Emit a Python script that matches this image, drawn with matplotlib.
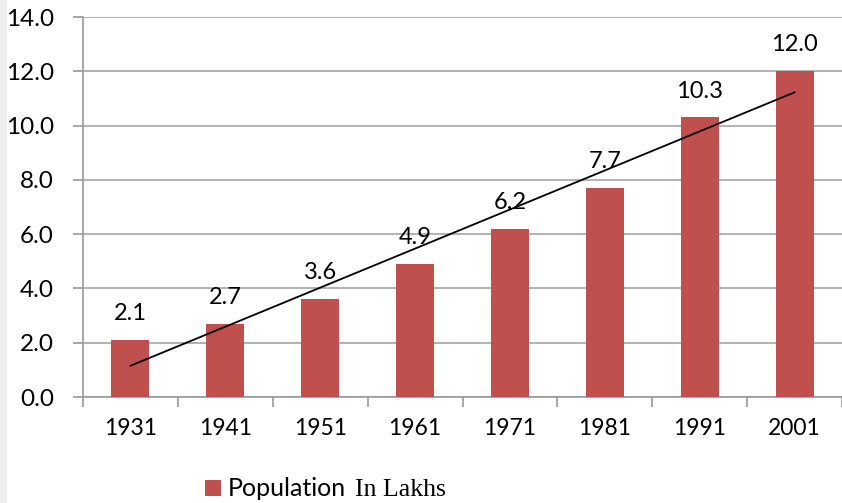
import numpy as np
import matplotlib
matplotlib.use("Agg")
import matplotlib.pyplot as plt
from matplotlib.patches import Rectangle

years = ["1931", "1941", "1951", "1961", "1971", "1981", "1991", "2001"]
population = [2.1, 2.7, 3.6, 4.9, 6.2, 7.7, 10.3, 12.0]
series_name = "Population"
series_unit = "In Lakhs"

plt.rcParams['font.family'] = ['Lato', 'DejaVu Sans']

fig = plt.figure(figsize=(8.42, 5.03), dpi=100)
fig.patches.append(Rectangle((0, 0), 7/842, 1, transform=fig.transFigure,
                             facecolor="#EDEDED", edgecolor="none", zorder=0))
ax = fig.add_axes([83/842, 1 - 397/503, (842 - 83)/842, (397 - 17)/503])

x = np.arange(len(years))
bar_color = "#C0504D"
bars = ax.bar(x, population, width=0.4, color=bar_color, zorder=3, label=series_name)

for xi, v in zip(x, population):
    ax.annotate(f"{v:.1f}", (xi, v), xytext=(0, 19), textcoords="offset points",
                ha="center", va="center", fontsize=17, color="black", zorder=5)

# linear trendline
coef = np.polyfit(x, population, 1)
ax.plot(x, np.polyval(coef, x), color="black", lw=1.3, zorder=4)

ax.set_xlim(-0.5, len(years) - 0.5)
ax.set_ylim(0, 14)
ax.set_yticks(np.arange(0, 14.1, 2))
ax.set_yticklabels([f"{t:.1f}" for t in np.arange(0, 14.1, 2)])
ax.set_xticks(x)
ax.set_xticklabels(years)
ax.set_xticks(np.arange(-0.5, len(years), 1), minor=True)
ax.tick_params(axis="x", which="major", length=0, pad=15, labelsize=16.5)
ax.tick_params(axis="x", which="minor", length=7, width=1.2, color="#9A9A9A", direction="out")
ax.tick_params(axis="y", length=7, width=1.2, color="#9A9A9A", pad=14, labelsize=17.5)

ax.grid(axis="y", color="#A6A6A6", lw=1.2, zorder=0)
for s in ["top", "right"]:
    ax.spines[s].set_visible(False)
for s in ["left", "bottom"]:
    ax.spines[s].set_color("#9A9A9A")
    ax.spines[s].set_linewidth(1.2)

leg = fig.legend(handles=[bars], labels=[series_name], loc="center left",
                 bbox_to_anchor=(205/842, 1 - 489/503), frameon=False, fontsize=18,
                 handlelength=0.62, handleheight=0.62, handletextpad=0.3,
                 borderpad=0, borderaxespad=0)
fig.canvas.draw()
ltxt = leg.get_texts()[0]
bb = ltxt.get_window_extent()
fig.text((bb.x1 + 9) / 842, (bb.y0) / 503, series_unit, family=["Liberation Serif", "DejaVu Serif"],
         fontsize=18.5, ha="left", va="bottom", color="black")

fig.savefig("out.png", dpi=100)
